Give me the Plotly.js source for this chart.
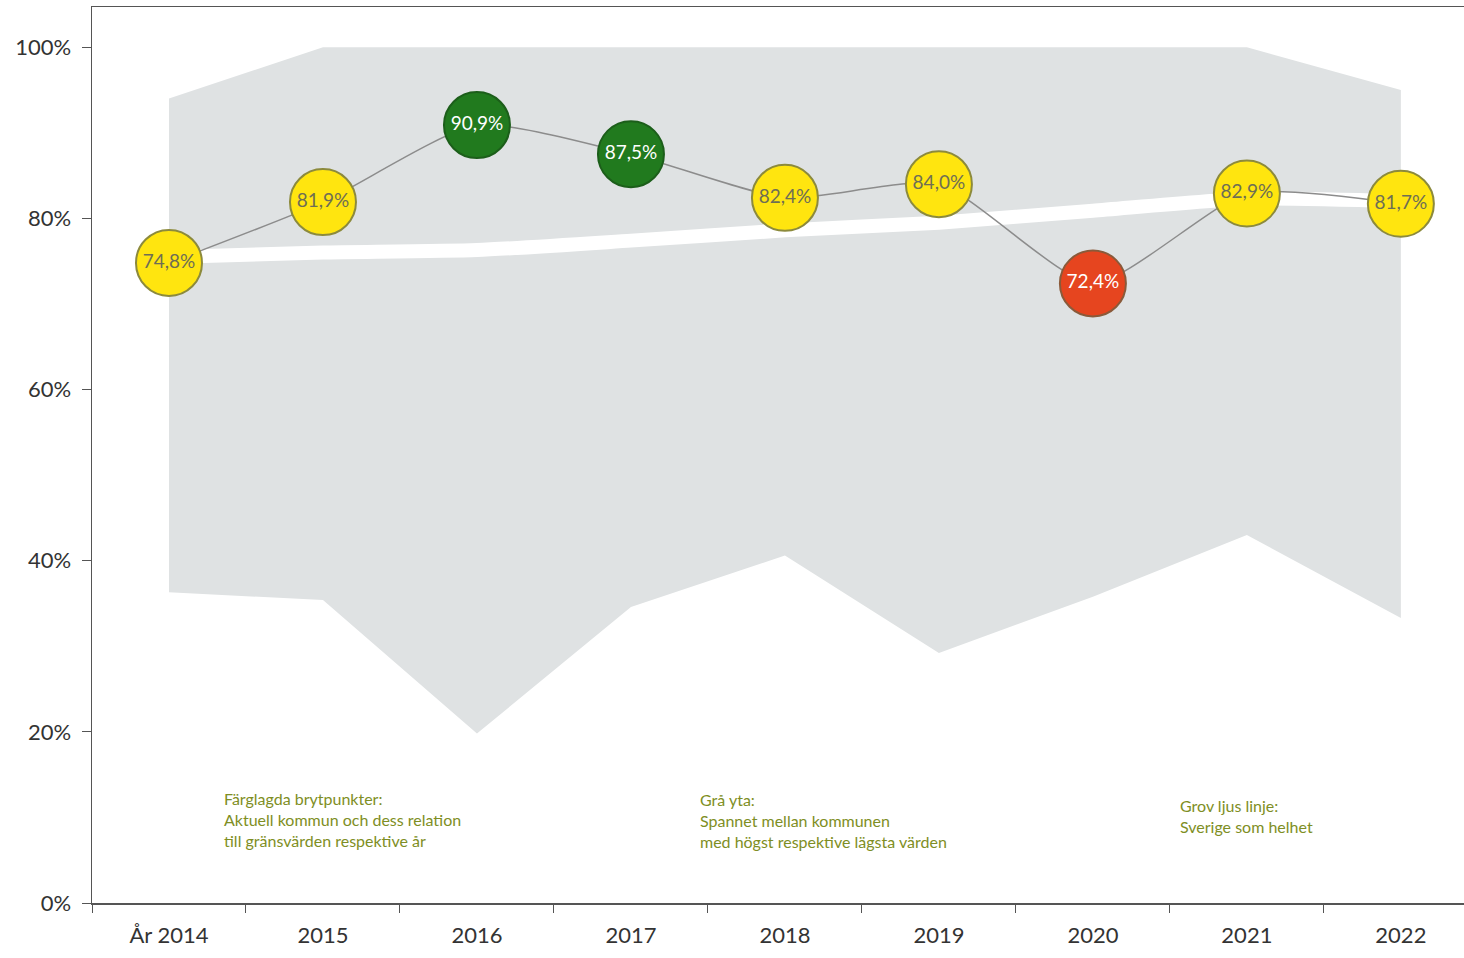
<!DOCTYPE html>
<html>
<head>
<meta charset="utf-8">
<script src="https://cdn.plot.ly/plotly-3.0.1.min.js"></script>
<style>html,body{margin:0;padding:0;background:#fff;overflow:hidden}#chart{width:1464px;height:958px}</style>
</head>
<body>
<div id="chart"></div>
<script>
const years = ["År 2014","2015","2016","2017","2018","2019","2020","2021","2022"];
const kommunValues = [74.8, 81.9, 90.9, 87.5, 82.4, 84.0, 72.4, 82.9, 81.7];
const kommunLabels = ["74,8%","81,9%","90,9%","87,5%","82,4%","84,0%","72,4%","82,9%","81,7%"];
const kommunStatus = ["yellow","yellow","green","green","yellow","yellow","red","yellow","yellow"];
const maxValues = [94.0, 100, 100, 100, 100, 100, 100, 100, 95.0];
const minValues = [36.3, 35.4, 19.8, 34.6, 40.6, 29.2, 35.8, 43.0, 33.3];
const swedenValues = [75.5, 76.0, 76.3, 77.4, 78.6, 79.5, 80.9, 82.3, 82.0];
const yTickVals = [0, 20, 40, 60, 80, 100];
const yTickText = ["0%", "20%", "40%", "60%", "80%", "100%"];
const noteTexts = [
  "Färglagda brytpunkter:<br>Aktuell kommun och dess relation<br>till gränsvärden respektive år",
  "Grå yta:<br>Spannet mellan kommunen<br>med högst respektive lägsta värden",
  "Grov ljus linje:<br>Sverige som helhet"
];

const fillMap = {yellow:"#FFE50F", green:"#217A1E", red:"#E6451F"};
const edgeMap = {yellow:"#8C8A3C", green:"#1C5E1A", red:"#8A5A3A"};
const textMap = {yellow:"#6E6E55", green:"#FFFFFF", red:"#FFFFFF"};

const traces = [
  {x: years, y: minValues, type:"scatter", mode:"lines", line:{width:0, color:"rgba(0,0,0,0)"}, hoverinfo:"skip", showlegend:false},
  {x: years, y: maxValues, type:"scatter", mode:"lines", fill:"tonexty", fillcolor:"#DFE2E3", line:{width:0, color:"rgba(0,0,0,0)"}, hoverinfo:"skip", showlegend:false},
  {x: years, y: swedenValues, type:"scatter", mode:"lines", line:{width:14, color:"#FFFFFF", shape:"spline", smoothing:0.6}, hoverinfo:"skip", showlegend:false},
  {x: years, y: kommunValues, type:"scatter", mode:"lines+markers+text",
   line:{width:1.5, color:"#8C8C8C", shape:"spline", smoothing:0.6},
   marker:{size:66, color: kommunStatus.map(s=>fillMap[s]), line:{width:2, color: kommunStatus.map(s=>edgeMap[s])}, opacity:1},
   text: kommunLabels, textposition:"middle center",
   textfont:{family:"Lato, 'Open Sans', sans-serif", size:19, color: kommunStatus.map(s=>textMap[s])},
   cliponaxis:false, showlegend:false}
];

const noteX = [0.0948, 0.4417, 0.7915];
const noteY = [0.130, 0.128, 0.122];

const layout = {
  width:1464, height:958,
  margin:{l:92, r:0, t:7, b:55},
  paper_bgcolor:"#FFFFFF", plot_bgcolor:"#FFFFFF",
  showlegend:false,
  font:{family:"Lato, 'Open Sans', sans-serif", color:"#333333"},
  xaxis:{type:"category", range:[-0.5, 8.41], showgrid:false, zeroline:false,
         showline:true, linecolor:"#555555", linewidth:1.5, mirror:true,
         ticks:"outside", tickson:"boundaries", ticklen:8, tickcolor:"#555555",
         ticklabelstandoff:12,
         tickfont:{size:22, color:"#333333"}, fixedrange:true},
  yaxis:{range:[0, 104.7], tickmode:"array", tickvals:yTickVals, ticktext:yTickText, showgrid:false, zeroline:false,
         showline:true, linecolor:"#555555", linewidth:1.5,
         ticks:"outside", ticklen:9, tickcolor:"#555555",
         ticklabelstandoff:6,
         tickfont:{size:22, color:"#333333"}, fixedrange:true},
  annotations: noteTexts.map((t,i)=>({xref:"paper", yref:"paper", x:noteX[i], y:noteY[i],
     xanchor:"left", yanchor:"top", align:"left", showarrow:false, text:t,
     font:{family:"Lato, 'Open Sans', sans-serif", size:16, color:"#7E8E24"}}))
};

Plotly.newPlot("chart", traces, layout, {displayModeBar:false, staticPlot:true});
</script>
</body>
</html>
